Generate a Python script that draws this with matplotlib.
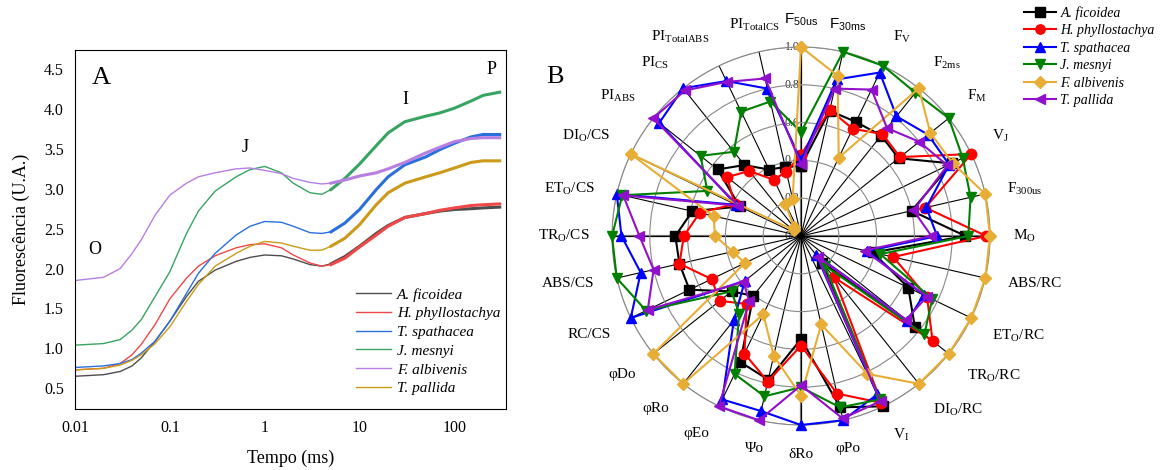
import numpy as np
import matplotlib
matplotlib.use("Agg")
import matplotlib.pyplot as plt

plt.rcParams['font.family'] = ['Liberation Serif', 'DejaVu Serif']
plt.rcParams['mathtext.fontset'] = 'custom'
plt.rcParams['mathtext.rm'] = 'Liberation Serif'
plt.rcParams['mathtext.it'] = 'Liberation Serif:italic'
plt.rcParams['mathtext.sf'] = 'Liberation Sans'

# ============================================================
# Panel A data: OJIP transients
# ============================================================

tempo = [0.01, 0.02, 0.03, 0.04, 0.05, 0.07, 0.1, 0.15, 0.2, 0.3, 0.5, 0.7, 1, 1.5, 2,
         3, 4, 5, 7, 10, 15, 20, 30, 50, 70, 100, 150, 200, 300]

f_ficoidea = [0.65, 0.67, 0.71, 0.78, 0.88, 1.09, 1.34, 1.65, 1.84, 1.98, 2.09, 2.14, 2.17, 2.16, 2.12,
              2.05, 2.03, 2.06, 2.15, 2.28, 2.44, 2.54, 2.64, 2.69, 2.72, 2.74, 2.75, 2.76, 2.77]
f_phyllo = [0.73, 0.75, 0.81, 0.92, 1.05, 1.30, 1.62, 1.88, 2.03, 2.16, 2.26, 2.30, 2.31, 2.26, 2.17,
            2.07, 2.03, 2.05, 2.13, 2.27, 2.42, 2.53, 2.64, 2.69, 2.73, 2.76, 2.79, 2.80, 2.81]
f_spath = [0.76, 0.78, 0.81, 0.86, 0.94, 1.09, 1.34, 1.69, 1.94, 2.19, 2.42, 2.53, 2.59, 2.58, 2.53,
           2.45, 2.44, 2.46, 2.57, 2.74, 2.99, 3.15, 3.30, 3.40, 3.49, 3.57, 3.65, 3.68, 3.68]
f_mesnyi = [1.04, 1.06, 1.11, 1.23, 1.36, 1.65, 1.96, 2.44, 2.72, 2.97, 3.15, 3.24, 3.28, 3.20, 3.07,
            2.95, 2.93, 2.99, 3.13, 3.31, 3.54, 3.70, 3.84, 3.91, 3.95, 4.01, 4.10, 4.17, 4.21]
f_albiv = [1.85, 1.89, 2.00, 2.19, 2.36, 2.67, 2.92, 3.07, 3.15, 3.20, 3.25, 3.26, 3.23, 3.19, 3.13,
           3.08, 3.06, 3.07, 3.11, 3.16, 3.20, 3.25, 3.33, 3.45, 3.52, 3.59, 3.63, 3.64, 3.64]
f_pallida = [0.73, 0.75, 0.79, 0.85, 0.92, 1.06, 1.27, 1.59, 1.80, 2.03, 2.19, 2.28, 2.34, 2.32, 2.28,
             2.23, 2.23, 2.28, 2.38, 2.55, 2.80, 2.95, 3.07, 3.15, 3.20, 3.26, 3.33, 3.35, 3.35]

especies = ["A. ficoidea", "H. phyllostachya", "T. spathacea",
            "J. mesnyi", "F. albivenis", "T. pallida"]
curvas = [f_ficoidea, f_phyllo, f_spath, f_mesnyi, f_albiv, f_pallida]
cores_a = ["#4d4d4d", "#f04848", "#2a70dc", "#38a462", "#b77fe2", "#cc9a18"]

# ============================================================
# Panel B data: JIP-test parameters (normalized)
# ============================================================

parametros = [r"F$_\mathsf{50us}$", r"F$_\mathsf{30ms}$", r"F$_\mathrm{V}$", r"F$_\mathrm{2ms}$",
              r"F$_\mathrm{M}$", r"V$_\mathrm{J}$", r"F$_\mathrm{300us}$", r"M$_\mathrm{O}$",
              "ABS/RC", r"ET$_\mathrm{O}$/RC", r"TR$_\mathrm{O}$/RC", r"DI$_\mathrm{O}$/RC",
              r"V$_\mathrm{I}$", "φPo", "δRo", "Ψo", "φEo", "φRo", "φDo",
              "RC/CS", "ABS/CS", r"TR$_\mathrm{O}$/CS", r"ET$_\mathrm{O}$/CS", r"DI$_\mathrm{O}$/CS",
              r"PI$_\mathrm{ABS}$", r"PI$_\mathrm{CS}$", r"PI$_\mathrm{TotalABS}$", r"PI$_\mathrm{TotalCS}$"]

r_ficoidea = [0.37, 0.68, 0.67, 0.68, 0.66, 0.885, 0.60, 0.87, 0.39, 0.63, 0.77, 0.18, 1.0, 0.93,
              0.545, 0.78, 0.74, 0.405, 0.47, 0.655, 0.66, 0.665, 0.59, 0.36, 0.565, 0.48, 0.39, 0.375]
r_phyllo = [0.43, 0.685, 0.63, 0.69, 0.67, 1.0, 0.675, 0.98, 0.50, 0.74, 0.89, 0.28, 0.98, 0.855,
            0.58, 0.79, 0.69, 0.46, 0.55, 0.525, 0.66, 0.62, 0.55, 0.39, 0.50, 0.44, 0.33, 0.35]
r_spath = [0.40, 0.85, 0.96, 0.81, 0.86, 0.87, 0.68, 0.72, 0.36, 0.72, 0.72, 0.13, 0.93, 1.0,
           1.0, 0.95, 0.96, 0.57, 0.38, 1.0, 0.87, 0.95, 1.0, 0.38, 0.96, 1.0, 0.91, 0.80]
r_mesnyi = [0.55, 1.0, 1.0, 0.97, 1.0, 0.95, 0.92, 0.885, 0.43, 0.77, 0.835, 0.20, 0.96, 0.93,
            0.80, 0.87, 0.81, 0.525, 0.47, 0.91, 1.0, 1.0, 0.97, 0.55, 0.68, 0.57, 0.73, 0.73]
r_albiv = [1.0, 0.87, 0.46, 1.0, 0.875, 0.89, 1.0, 1.0, 1.0, 1.0, 1.0, 1.0, 0.81, 0.48,
           0.845, 0.65, 0.46, 1.0, 1.0, 0.33, 0.37, 0.455, 0.475, 1.0, 0.05, 0.06, 0.19, 0.20]
r_pallida = [0.38, 0.80, 0.86, 0.73, 0.80, 0.86, 0.61, 0.69, 0.345, 0.74, 0.71, 0.14, 0.97, 0.99,
             0.79, 1.0, 1.0, 0.44, 0.39, 0.90, 0.80, 0.855, 0.965, 0.37, 1.0, 0.985, 0.905, 0.855]

radar = [r_ficoidea, r_phyllo, r_spath, r_mesnyi, r_albiv, r_pallida]
cores_b = ["#000000", "#ff0000", "#0000ff", "#008000", "#e8ad35", "#9010cc"]
marcadores = ["s", "o", "^", "v", "D", "<"]

fig = plt.figure(figsize=(11.62, 4.70), dpi=100)

# ============================================================
# Panel A
# ============================================================

ax1 = fig.add_axes([0.0645, 0.1298, 0.371, 0.764])
t = np.array(tempo)
for nome, f, cor in zip(especies, curvas, cores_a):
    f = np.array(f)
    ax1.plot(t, f, color=cor, lw=1.0, label=nome)
    tail = t >= 5
    ax1.plot(t[tail], f[tail], color=cor, lw=2.2)

ax1.set_xscale("log")
ax1.set_xlim(0.01, 350)
ax1.set_ylim(0.24, 4.74)
ax1.set_xticks([0.01, 0.1, 1, 10, 100])
ax1.set_xticklabels(["0.01", "0.1", "1", "10", "100"])
ax1.minorticks_off()
ax1.set_yticks([0.5, 1.0, 1.5, 2.0, 2.5, 3.0, 3.5, 4.0, 4.5])
ax1.set_yticklabels(["0.5", "1.0", "1.5", "2.0", "2.5", "3.0", "3.5", "4.0", "4.5"])
ax1.tick_params(length=0, labelsize=11.5, pad=8)
ax1.set_xlabel("Tempo (ms)", fontsize=13, labelpad=10)
ax1.set_ylabel("Fluorescência (U.A.)", fontsize=13, labelpad=10)

ax1.text(0.0191, 4.39, "A", fontsize=19, ha="center", va="center")
ax1.text(0.0163, 2.24, "O", fontsize=13, ha="center", va="center")
ax1.text(0.62, 3.52, "J", fontsize=13, ha="center", va="center")
ax1.text(30.5, 4.12, "I", fontsize=13, ha="center", va="center")
ax1.text(245, 4.50, "P", fontsize=13, ha="center", va="center")

leg1 = ax1.legend(loc="lower left", bbox_to_anchor=(0.62, 0.0), frameon=False,
                  prop={"style": "italic", "size": 11}, handlelength=2.3,
                  labelspacing=0.33, handletextpad=0.4)

# ============================================================
# Panel B
# ============================================================

n = len(parametros)
angulos = np.arange(n) * 2 * np.pi / n

ax2 = fig.add_axes([0.5267, 0.0957, 0.3253, 0.8043], projection="polar")
ax2.set_theta_zero_location("N")
ax2.set_theta_direction(-1)
ax2.set_ylim(0, 1)
ax2.set_xticks(angulos)
ax2.set_xticklabels([])
ax2.set_yticks([0.2, 0.4, 0.6, 0.8, 1.0])
ax2.set_yticklabels([])
ax2.xaxis.grid(True, color="black", lw=0.8)
ax2.yaxis.grid(True, color="#888888", lw=0.8)
ax2.spines["polar"].set_color("#888888")
ax2.spines["polar"].set_linewidth(0.8)

for a in [0, np.pi / 2, np.pi, 3 * np.pi / 2]:
    ax2.plot([a, a], [0, 1], color="#777777", lw=1.6, zorder=1)

for r in [0.0, 0.2, 0.4, 0.6, 0.8, 1.0]:
    ax2.annotate(f"{r:.1f}", xy=(0, r), xytext=(-1, 0), textcoords="offset points",
                 ha="right", va="center", fontsize=8.5, color="#333333", zorder=1)

ang_fechado = np.append(angulos, angulos[0])
for nome, vals, cor, m in zip(especies, radar, cores_b, marcadores):
    v = np.append(vals, vals[0])
    ms = 6.5 if m == "D" else 7.5
    ax2.plot(ang_fechado, v, color=cor, lw=1.5, marker=m, ms=ms, label=nome,
             clip_on=False, zorder=3)

for ang, lab in zip(angulos, parametros):
    s, c = np.sin(ang), np.cos(ang)
    ha = "left" if s > 0.25 else ("right" if s < -0.25 else "center")
    va = "bottom" if c > 0.25 else ("top" if c < -0.25 else "center")
    fam = ["Liberation Sans", "DejaVu Sans"] if "mathsf" in lab else None
    rr = 1.10 if abs(s) < 0.3 and c > 0 else 1.12
    ax2.text(ang, rr, lab, ha=ha, va=va, fontsize=11, family=fam)

fig.text(555 / 1162, 1 - 77 / 470, "B", fontsize=19, ha="center", va="center")

handles, labels = ax2.get_legend_handles_labels()
fig.legend(handles, labels, loc="upper left", bbox_to_anchor=(1016 / 1162, 1.005),
           frameon=False, prop={"style": "italic", "size": 10}, handlelength=2.3,
           labelspacing=0.32, handletextpad=0.3, borderaxespad=0.2, markerscale=0.9)

fig.savefig("out.png", dpi=100)
